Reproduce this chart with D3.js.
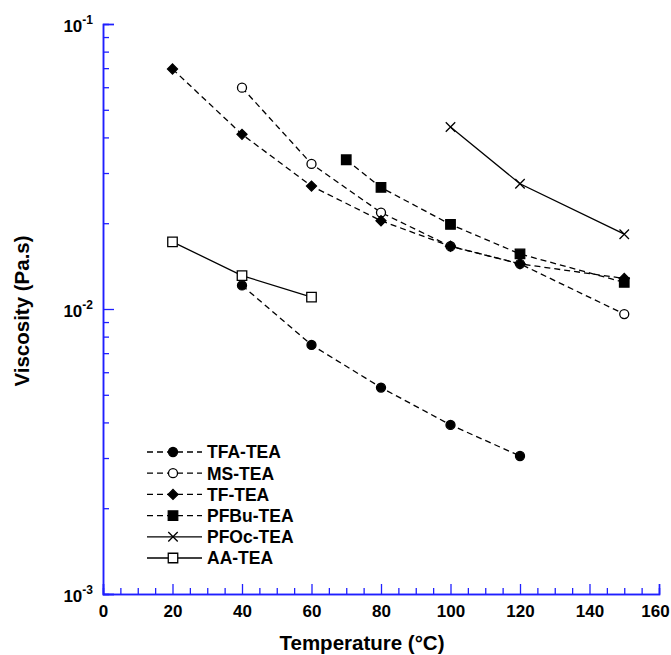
<!DOCTYPE html>
<html>
<head>
<meta charset="utf-8">
<script src="https://cdn.jsdelivr.net/npm/d3@7"></script>
<style>
  body { margin: 0; background: #fff; }
  svg { font-family: "Liberation Sans", Arial, sans-serif; font-weight: bold; }
</style>
</head>
<body>
<svg id="chart" width="671" height="655"></svg>
<script>
// temperatures (°C) and viscosities (Pa.s)
const tfaT = [40, 60, 80, 100, 120];
const tfaV = [0.0121, 0.00748, 0.0053, 0.00392, 0.00305];
const msT = [40, 60, 80, 100, 120, 150];
const msV = [0.0598, 0.0323, 0.0218, 0.0166, 0.0144, 0.0096];
const tfT = [20, 40, 60, 80, 100, 120, 150];
const tfV = [0.0695, 0.041, 0.027, 0.0204, 0.0166, 0.0144, 0.0128];
const pfbuT = [70, 80, 100, 120, 150];
const pfbuV = [0.0334, 0.0267, 0.0198, 0.0156, 0.0124];
const pfocT = [100, 120, 150];
const pfocV = [0.0435, 0.0275, 0.0183];
const aaT = [20, 40, 60];
const aaV = [0.0172, 0.0131, 0.011];

const xTicks = [0, 20, 40, 60, 80, 100, 120, 140, 160];
const yTicks = [0.001, 0.01, 0.1];
const yExp = ["-3", "-2", "-1"];

const series = [
  { name: "TFA-TEA", t: tfaT, v: tfaV, shape: "circle", fill: "#000", dashed: true },
  { name: "MS-TEA", t: msT, v: msV, shape: "circle", fill: "#fff", dashed: true },
  { name: "TF-TEA", t: tfT, v: tfV, shape: "diamond", fill: "#000", dashed: true },
  { name: "PFBu-TEA", t: pfbuT, v: pfbuV, shape: "square", fill: "#000", dashed: true },
  { name: "PFOc-TEA", t: pfocT, v: pfocV, shape: "times", fill: "none", dashed: false },
  { name: "AA-TEA", t: aaT, v: aaV, shape: "square", fill: "#fff", dashed: false }
];

const svg = d3.select("#chart");
const x = d3.scaleLinear().domain([0, 160]).range([103, 659]);
const y = d3.scaleLog().domain([0.001, 0.1]).range([594, 24]);
const axisColor = "#1f1fff";

// minor ticks
const xMinor = d3.range(0, 161, 5).filter(d => d % 20 !== 0);
const yMinor = [];
[0.001, 0.01].forEach(b => { for (let k = 2; k <= 9; k++) yMinor.push(b * k); });

const gx = svg.append("g").attr("transform", "translate(0,594)");
gx.call(d3.axisBottom(x).tickValues(xMinor).tickSize(-6).tickFormat(""));
gx.call(g => g.append("g").call(d3.axisBottom(x).tickValues(xTicks).tickSize(-10).tickPadding(11)));
gx.selectAll("path.domain").attr("stroke", axisColor).attr("stroke-width", 1.5);
gx.selectAll("line").attr("stroke", axisColor).attr("stroke-width", 1.3);
gx.selectAll("text").attr("font-size", 17).attr("font-weight", "bold").attr("fill", "#000")
  .attr("font-family", "Liberation Sans, Arial, sans-serif")
  .attr("dx", d => d === 160 ? -4 : 0);

const gy = svg.append("g").attr("transform", "translate(103,0)");
gy.call(d3.axisLeft(y).tickValues(yMinor).tickSize(-6).tickFormat(""));
gy.call(g => g.append("g").call(d3.axisLeft(y).tickValues(yTicks).tickSize(-11).tickFormat("")));
gy.selectAll("path.domain").attr("stroke", axisColor).attr("stroke-width", 1.5);
gy.selectAll("line").attr("stroke", axisColor).attr("stroke-width", 1.3);

// y tick labels as 10^n
yTicks.forEach((d, i) => {
  const t = svg.append("text")
    .attr("x", 93).attr("y", y(d) + 8)
    .attr("text-anchor", "end").attr("font-size", 17);
  t.append("tspan").text("10");
  t.append("tspan").attr("dy", -8).attr("font-size", 12).text(yExp[i]);
});

// axis titles
svg.append("text").attr("x", 362).attr("y", 650).attr("text-anchor", "middle")
  .attr("font-size", 20.5).text("Temperature (°C)");
svg.append("text").attr("transform", "translate(29,311) rotate(-90)")
  .attr("text-anchor", "middle").attr("font-size", 20.5).text("Viscosity (Pa.s)");

function drawMarker(sel, s) {
  let gen;
  if (s.shape === "circle") gen = d3.symbol(d3.symbolCircle, 64);
  else if (s.shape === "diamond") gen = d3.symbol(d3.symbolSquare, 50);
  else if (s.shape === "square") gen = d3.symbol(d3.symbolSquare, 90);
  else gen = d3.symbol(d3.symbolTimes, 60);
  sel.append("path").attr("d", gen)
    .attr("transform", s.shape === "diamond" ? "rotate(45)" : null)
    .attr("fill", s.fill)
    .attr("stroke", "#000")
    .attr("stroke-width", 1.3);
}

const line = d3.line().x(d => x(d[0])).y(d => y(d[1]));

series.forEach(s => {
  const pts = s.t.map((t, i) => [t, s.v[i]]);
  svg.append("path").datum(pts).attr("d", line)
    .attr("fill", "none").attr("stroke", "#000").attr("stroke-width", 1.3)
    .attr("stroke-dasharray", s.dashed ? "6,4" : null);
});
series.forEach(s => {
  const pts = s.t.map((t, i) => [t, s.v[i]]);
  svg.append("g").selectAll("g").data(pts).enter().append("g")
    .attr("transform", d => `translate(${x(d[0])},${y(d[1])})`)
    .each(function () { drawMarker(d3.select(this), s); });
});

// legend
const legend = svg.append("g");
series.forEach((s, i) => {
  const ly = 452 + i * 21.2;
  const row = legend.append("g");
  row.append("line").attr("x1", 147).attr("x2", 202).attr("y1", ly).attr("y2", ly)
    .attr("stroke", "#000").attr("stroke-width", 1.3)
    .attr("stroke-dasharray", s.dashed ? "6,4" : null);
  const m = row.append("g").attr("transform", `translate(173,${ly})`);
  drawMarker(m, s);
  row.append("text").attr("x", 207).attr("y", ly).attr("dy", "0.36em")
    .attr("font-size", 17.5).text(s.name);
});
</script>
</body>
</html>
